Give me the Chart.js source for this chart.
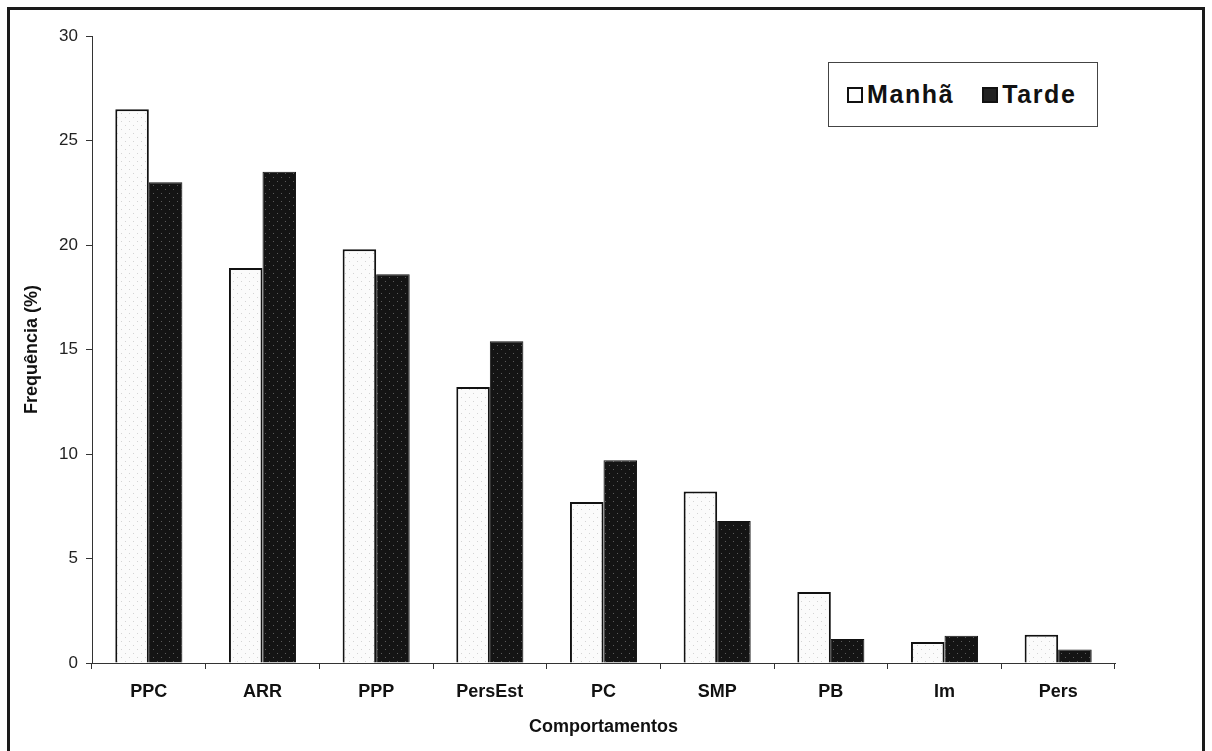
<!DOCTYPE html>
<html lang="pt">
<head>
    <meta charset="UTF-8">
    <title>Comportamentos - Manhã / Tarde</title>
    <script src="https://cdn.jsdelivr.net/npm/chart.js"></script>
    <style>
        body { margin: 0; background: #fff; overflow: hidden; }
        #wrap { position: relative; width: 1212px; height: 751px; }
        #frame {
            position: absolute; left: 7px; top: 7px; width: 1198px; height: 800px;
            border: 3px solid #1a1a1a; box-sizing: border-box; pointer-events: none;
        }
        #legend {
            position: absolute; left: 828px; top: 62px; width: 270px; height: 65px;
            border: 1px solid #444; box-sizing: border-box; background: #fff;
            display: flex; align-items: center; padding-left: 18px;
            font-family: "Liberation Sans", Arial, sans-serif; font-weight: bold; font-size: 25px;
            letter-spacing: 1.6px; color: #111;
        }
        .item { display: flex; align-items: center; margin-right: 28px; }
        .swatch { width: 12px; height: 12px; border: 2px solid #111; margin-right: 4px; }
    </style>
</head>
<body>
<div id="wrap">
    <canvas id="chart" width="1212" height="751"></canvas>
    <div id="frame"></div>
    <div id="legend"></div>
</div>
<script>
    const categories = ['PPC', 'ARR', 'PPP', 'PersEst', 'PC', 'SMP', 'PB', 'Im', 'Pers'];
    const manha = [26.5, 18.9, 19.8, 13.2, 7.7, 8.2, 3.4, 1.0, 1.35];
    const tarde = [23.0, 23.5, 18.6, 15.4, 9.7, 6.8, 1.15, 1.3, 0.65];
    const seriesNames = ['Manhã', 'Tarde'];
    const yMax = 30;
    const yStep = 5;

    // dotted fill like the printed figure
    function dots(bg, dot) {
        const c = document.createElement('canvas');
        c.width = 8; c.height = 8;
        const g = c.getContext('2d');
        g.fillStyle = bg;
        g.fillRect(0, 0, 8, 8);
        g.fillStyle = dot;
        g.fillRect(1, 1, 1, 1);
        g.fillRect(5, 5, 1, 1);
        return g.createPattern(c, 'repeat');
    }
    const ctx = document.getElementById('chart').getContext('2d');
    const fillManha = dots('#fbfbfb', '#d4d4d4');
    const fillTarde = dots('#141414', '#5a5a5a');

    const family = '"Liberation Sans", Arial, sans-serif';

    new Chart(ctx, {
        type: 'bar',
        data: {
            labels: categories,
            datasets: [
                { label: seriesNames[0], data: manha, backgroundColor: fillManha, borderColor: '#111', borderWidth: 2 },
                { label: seriesNames[1], data: tarde, backgroundColor: fillTarde, borderColor: '#111', borderWidth: 1 }
            ]
        },
        options: {
            responsive: false,
            animation: false,
            layout: { padding: { left: 0, top: 36, right: 97, bottom: 0 } },
            datasets: { bar: { categoryPercentage: 0.59, barPercentage: 1.0 } },
            plugins: { legend: { display: false }, tooltip: { enabled: false } },
            scales: {
                x: {
                    afterFit: s => { s.height = 88; },
                    grid: { drawOnChartArea: false, tickLength: 6, color: '#333', offset: true },
                    border: { color: '#333', width: 1 },
                    ticks: { color: '#111', padding: 12, font: { family, size: 18, weight: 'bold' } },
                    title: {
                        display: true, text: 'Comportamentos', color: '#111',
                        font: { family, size: 18, weight: 'bold' }, padding: { top: 4, bottom: 13 }
                    }
                },
                y: {
                    min: 0, max: yMax,
                    afterFit: s => { s.width = 92; },
                    grid: { drawOnChartArea: false, tickLength: 6, color: '#333' },
                    border: { color: '#333', width: 1 },
                    ticks: { stepSize: yStep, color: '#222', padding: 8, font: { family, size: 17 } },
                    title: {
                        display: true, text: 'Frequência (%)', color: '#111',
                        font: { family, size: 18, weight: 'bold' }, padding: { top: 21, bottom: 0 }
                    }
                }
            }
        }
    });

    // legend box inside the plot, top right
    const legend = document.getElementById('legend');
    seriesNames.forEach((name, i) => {
        const item = document.createElement('span');
        item.className = 'item';
        const sw = document.createElement('span');
        sw.className = 'swatch';
        sw.style.background = i === 0 ? '#fff' : '#222';
        item.appendChild(sw);
        item.appendChild(document.createTextNode(name));
        legend.appendChild(item);
    });
</script>
</body>
</html>
